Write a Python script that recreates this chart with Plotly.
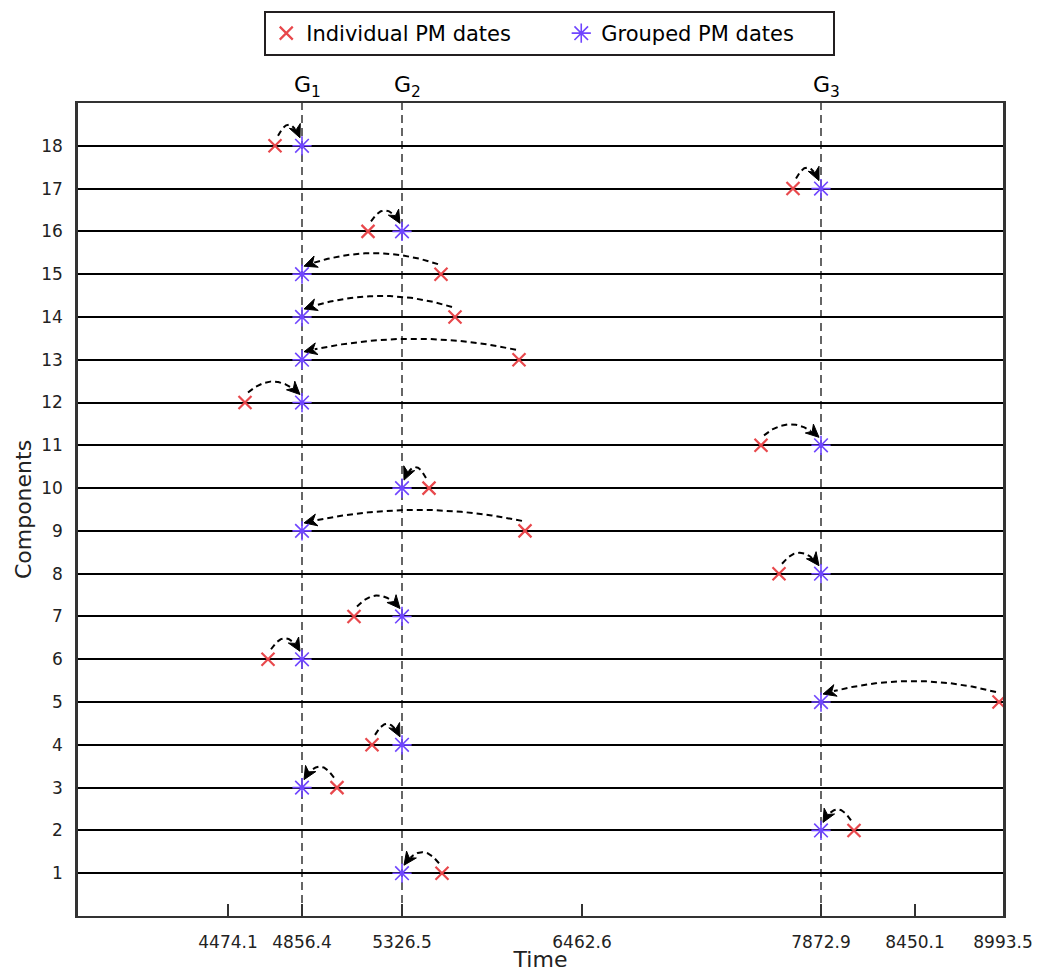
import numpy as np
import plotly.graph_objects as go

# ---------------- data ----------------
components = list(range(1, 19))
# x positions are in axis units (the time axis is labelled with the tick texts below)
individual_x = [364, 776, 259, 294, 921, 190, 276, 701, 447, 351, 683, 167, 441, 377, 363, 290, 715, 197]
grouped_x = [324, 743, 224, 324, 743, 224, 324, 743, 224, 324, 743, 224, 224, 224, 224, 324, 743, 224]
group_x = [224, 324, 743]
group_labels = ["G<sub>1</sub>", "G<sub>2</sub>", "G<sub>3</sub>"]
tick_pos = [150, 224, 324, 504, 743, 837, 925]
tick_text = ["4474.1", "4856.4", "5326.5", "6462.6", "7872.9", "8450.1", "8993.5"]

# ---------------- style ----------------
FONT = "DejaVu Sans"
RED = "#E8484C"
PURPLE = "#6F45FF"
FRAME = "#333333"
X_RANGE = [0, 925]
Y_RANGE = [0, 19]
# page body has an 8px margin, so the figure is made 8px smaller
W, H = 1038, 964
M = dict(l=70, r=43, t=95, b=56)
PLOT_H = H - M["t"] - M["b"]
PLOT_W = W - M["l"] - M["r"]
PX_Y = PLOT_H / (Y_RANGE[1] - Y_RANGE[0])  # px per y unit
PX_X = PLOT_W / (X_RANGE[1] - X_RANGE[0])

fig = go.Figure()

# curved dashed arrows from individual date to grouped date
t = np.linspace(0, 1, 80)
HEAD_L = 13   # arrowhead length, px
HEAD_W = 6    # arrowhead half width, px
head_x, head_y = [], []
for c, xi, xg in zip(components, individual_x, grouped_x):
    s = np.sign(xi - xg)
    # work in pixel space (x right, y up)
    x0, y0 = xi * PX_X - s * 3, c * PX_Y + 10
    x2, y2 = xg * PX_X + s * 2, c * PX_Y + 8
    peak = c * PX_Y + 21
    x1, y1 = (x0 + x2) / 2, 2 * peak - (y0 + y2) / 2
    bx = (1 - t) ** 2 * x0 + 2 * (1 - t) * t * x1 + t ** 2 * x2
    by = (1 - t) ** 2 * y0 + 2 * (1 - t) * t * y1 + t ** 2 * y2
    seg = np.hypot(np.diff(bx), np.diff(by))
    dist_from_end = np.concatenate([np.cumsum(seg[::-1])[::-1], [0.0]])
    k = int(np.nonzero(dist_from_end >= HEAD_L - 3)[0][-1])
    fig.add_trace(go.Scatter(
        x=bx[:k + 1] / PX_X, y=by[:k + 1] / PX_Y, mode="lines",
        line=dict(color="black", width=2, dash="6px,4px"),
        showlegend=False, hoverinfo="skip",
    ))
    # arrowhead along end tangent
    ux, uy = x2 - x1, y2 - y1
    n = np.hypot(ux, uy)
    ux, uy = ux / n, uy / n
    bxp, byp = x2 - ux * HEAD_L, y2 - uy * HEAD_L
    px_, py_ = -uy, ux
    tri = [(x2, y2), (bxp + px_ * HEAD_W, byp + py_ * HEAD_W),
           (x2 - ux * HEAD_L * 0.7, y2 - uy * HEAD_L * 0.7),
           (bxp - px_ * HEAD_W, byp - py_ * HEAD_W), (x2, y2)]
    head_x += [p[0] / PX_X for p in tri] + [None]
    head_y += [p[1] / PX_Y for p in tri] + [None]

fig.add_trace(go.Scatter(
    x=head_x, y=head_y, mode="lines", fill="toself", fillcolor="black",
    line=dict(color="black", width=1), showlegend=False, hoverinfo="skip",
))

fig.add_trace(go.Scatter(
    x=individual_x, y=components, mode="markers", name="Individual PM dates",
    legendwidth=250,
    marker=dict(symbol="x-thin", size=13, color=RED, line=dict(color=RED, width=2.2)),
))
fig.add_trace(go.Scatter(
    x=grouped_x, y=components, mode="markers", name="Grouped PM dates",
    legendwidth=227,
    marker=dict(symbol="asterisk", size=16, color=PURPLE, line=dict(color=PURPLE, width=1.6)),
))

# group vertical dashed lines and labels
for gx, gl in zip(group_x, group_labels):
    fig.add_shape(type="line", x0=gx, x1=gx, y0=0, y1=1, xref="x", yref="paper",
                  line=dict(color="black", width=1.2, dash="8px,5px"), layer="between")
    fig.add_annotation(x=gx, y=1, xref="x", yref="paper", text=gl, showarrow=False,
                       yanchor="bottom", yshift=0, xshift=5,
                       font=dict(family=FONT, size=22, color="black"))

fig.update_layout(
    width=W, height=H,
    margin=dict(**M, autoexpand=False),
    paper_bgcolor="white", plot_bgcolor="white",
    font=dict(family=FONT, color="#222222"),
    legend=dict(orientation="h", x=0.51, xanchor="center", y=1 + 92 / PLOT_H, yanchor="top",
                bordercolor="#231F20", borderwidth=2, bgcolor="white",
                font=dict(family=FONT, size=21, color="black")),
)
fig.update_xaxes(
    range=X_RANGE, tickvals=tick_pos, ticktext=tick_text, automargin=False,
    showgrid=False, zeroline=False,
    showline=True, linecolor=FRAME, linewidth=2, mirror=True,
    ticks="inside", ticklen=12, tickwidth=2, tickcolor=FRAME,
    tickfont=dict(family=FONT, size=17, color="#222222"), ticklabelstandoff=10,
    title=dict(text="Time", font=dict(family=FONT, size=22, color="#222222"), standoff=0),
)
fig.update_yaxes(
    range=Y_RANGE, tickvals=components, ticktext=[str(c) for c in components], automargin=False,
    showgrid=True, gridcolor="black", gridwidth=2, zeroline=False,
    showline=True, linecolor=FRAME, linewidth=2.5, mirror=True,
    ticks="", tickfont=dict(family=FONT, size=17, color="#222222"), ticklabelstandoff=9,
    title=dict(text="Components", font=dict(family=FONT, size=22, color="#222222"), standoff=4),
)

fig.write_html("out.html")
